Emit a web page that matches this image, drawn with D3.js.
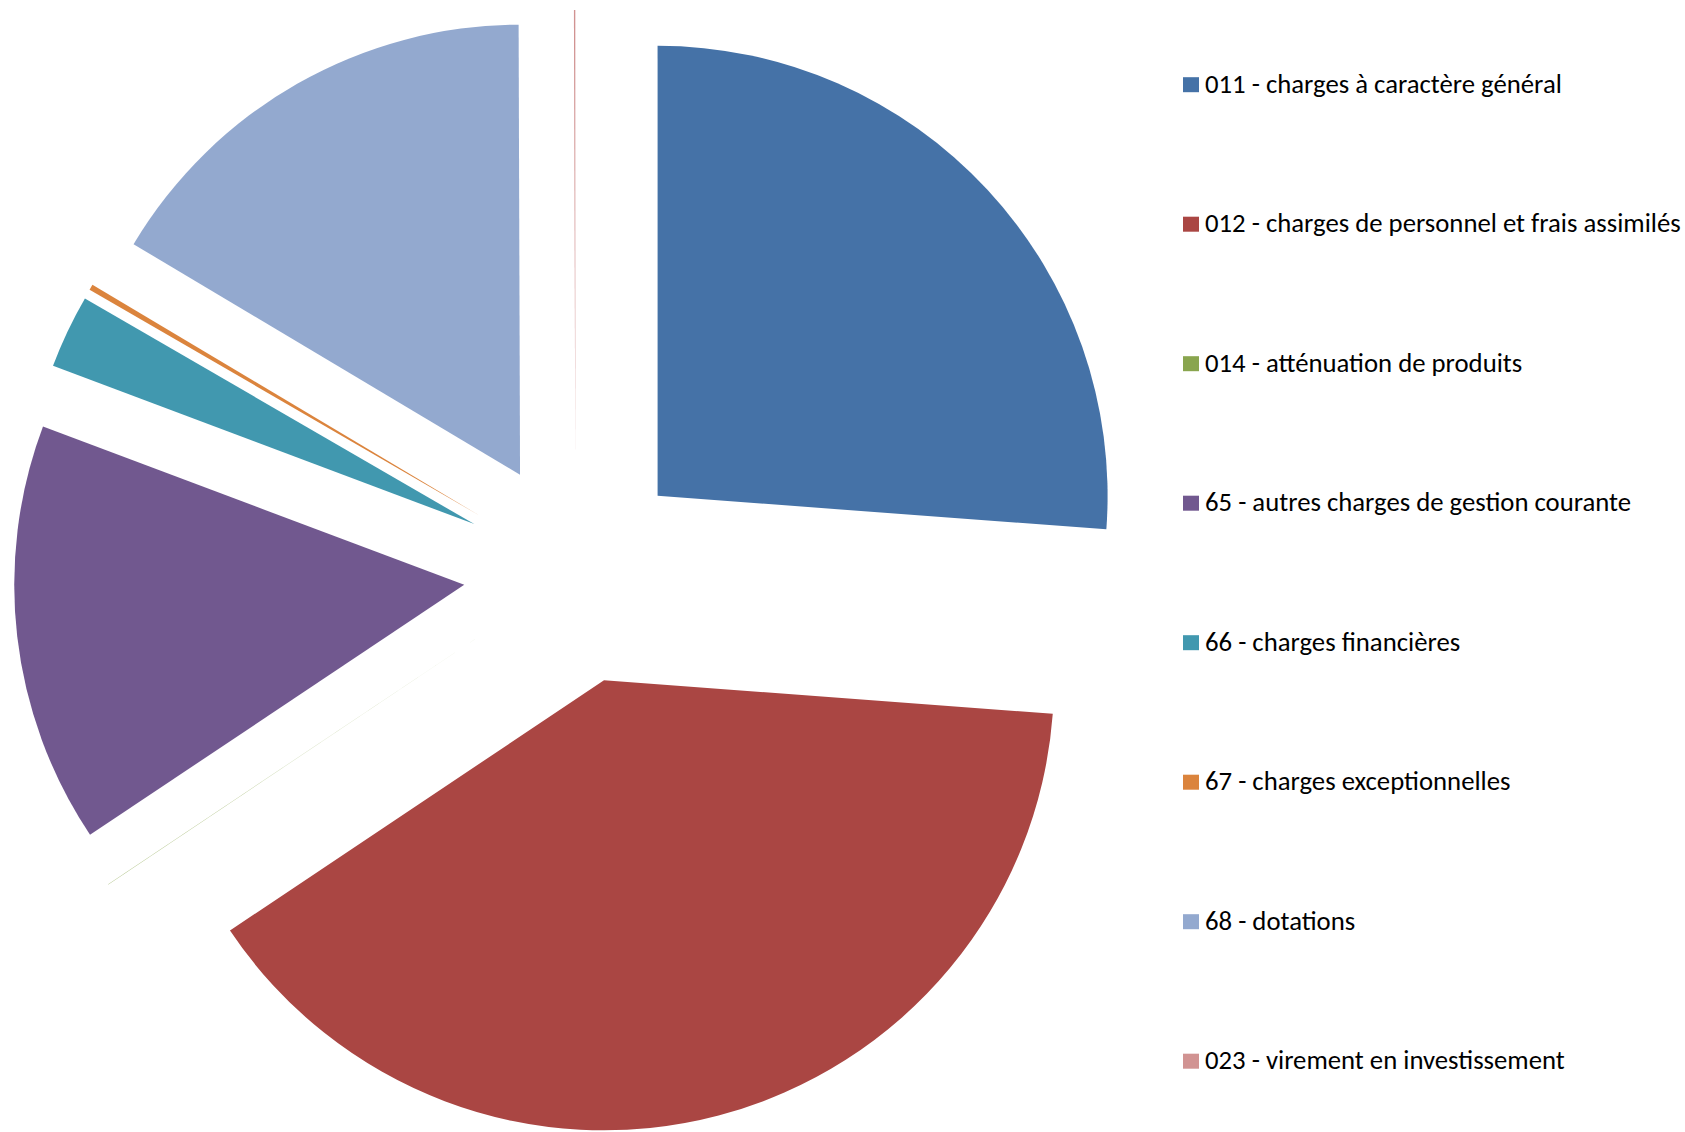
<!DOCTYPE html>
<html>
<head>
<meta charset="utf-8">
<script src="https://cdn.jsdelivr.net/npm/d3@7"></script>
<style>
  html, body { margin: 0; padding: 0; background: #ffffff; }
  svg { display: block; }
</style>
</head>
<body>
<svg id="chart" width="1685" height="1132"></svg>
<script>
const categories = [
  "011 - charges à caractère général",
  "012 - charges de personnel et frais assimilés",
  "014 - atténuation de produits",
  "65 - autres charges de gestion courante",
  "66 - charges financières",
  "67 - charges exceptionnelles",
  "68 - dotations",
  "023 - virement en investissement"
];
const values = [26.2, 39.45, 0.01, 15.1, 2.64, 0.2, 16.4, 0.05];
const colors = ["#4572A7", "#AA4643", "#89A54E", "#71588F", "#4198AF", "#DB843D", "#93A9CF", "#D19392"];

const W = 1685, H = 1132;
const cx = 575.5, cy = 572, radius = 450, explode = 112;

const svg = d3.select("#chart");
const data = categories.map((c, i) => ({ name: c, value: values[i], color: colors[i] }));

const pie = d3.pie().value(d => d.value).sort(null).startAngle(0).endAngle(2 * Math.PI);
const arc = d3.arc().innerRadius(0).outerRadius(radius);

const g = svg.append("g").attr("transform", `translate(${cx},${cy})`);
g.selectAll("path.slice")
  .data(pie(data))
  .join("path")
  .attr("class", "slice")
  .attr("fill", d => d.data.color)
  .attr("transform", d => {
    const a = (d.startAngle + d.endAngle) / 2;
    return `translate(${explode * Math.sin(a)},${-explode * Math.cos(a)})`;
  })
  .attr("d", arc);

// Legend
const legendX = 1183, legendY0 = 84.7, legendStep = 139.5, sw = 16, sh = 15;
const fontFamily = "Carlito, Calibri, Lato, 'Open Sans', sans-serif";
const lg = svg.append("g");
const items = lg.selectAll("g.item").data(data).join("g")
  .attr("class", "item")
  .attr("transform", (d, i) => `translate(${legendX},${legendY0 + i * legendStep})`);
items.append("rect")
  .attr("x", 0).attr("y", -sh / 2)
  .attr("width", sw).attr("height", sh)
  .attr("fill", d => d.color);
const texts = items.append("text")
  .attr("x", 22)
  .attr("font-family", fontFamily)
  .attr("fill", "#000")
  .text(d => d.name);

// fit font size so the first label spans the same width as the reference
let fs = 22;
texts.attr("font-size", fs);
const w0 = texts.nodes()[0].getComputedTextLength();
fs = fs * 357 / w0;
texts.attr("font-size", fs).attr("y", fs * 0.31);
</script>
</body>
</html>
